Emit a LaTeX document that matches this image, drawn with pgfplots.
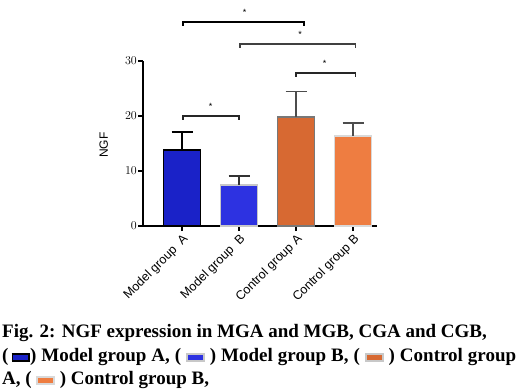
\documentclass[border=0pt]{standalone}
\usepackage{pgfplots}
\pgfplotsset{compat=1.18}
\usepackage{fontspec}
\setmainfont{Liberation Serif}
\newfontfamily\arial{Liberation Sans}
\definecolor{mablue}{RGB}{26,34,200}
\definecolor{mbblue}{RGB}{45,50,225}
\definecolor{caor}{RGB}{215,105,50}
\definecolor{cbor}{RGB}{238,125,65}
\definecolor{gborder}{RGB}{120,120,120}
\definecolor{lborder}{RGB}{200,200,200}
\newcommand\lbox[2]{\raisebox{1pt}{\setlength{\fboxsep}{0pt}\setlength{\fboxrule}{1.8pt}\fcolorbox{#1}{#2}{\rule{0pt}{5.5pt}\hspace{15pt}}}}
\begin{document}
\begin{tikzpicture}
\useasboundingbox (0,0) rectangle (519pt,391pt);
\begin{axis}[
  at={(143pt,165pt)}, anchor=south west,
  scale only axis, width=234pt, height=165pt,
  xmin=-0.684, xmax=3.42, ymin=0, ymax=30,
  axis x line*=bottom, axis y line*=left,
  axis line style={line width=1.6pt, -},
  ytick={0,10,20,30}, xtick={0,1,2,3},
  xticklabels={Model group\ \ A, Model group\ \ B, Control group A, Control group B},
  tick align=outside, major tick length=5pt,
  tick style={line width=1.3pt, black},
  x tick label style={rotate=45, anchor=north east, inner sep=1.5pt, font=\arial\fontsize{12.5}{12.5}\selectfont, text=black},
  y tick label style={font=\arial\fontsize{12}{12}\selectfont, inner sep=1pt},
  ylabel={NGF}, ylabel style={font=\arial\fontsize{12}{12}\selectfont, at={(axis description cs:-0.135,0.49)}},
  clip=false,
]
\addplot[ybar, bar shift=0pt, bar width=37pt, fill=mablue, draw=black, line width=1.8pt,
  error bars/.cd, y dir=plus, y explicit,
  error bar style={line width=1.5pt, black},
  error mark options={rotate=90, mark size=10.5pt, line width=1.5pt, black}]
  coordinates {(0,13.8) +- (0,3.3)};
\addplot[ybar, bar shift=0pt, bar width=37pt, fill=mbblue, draw=lborder, line width=1.8pt,
  error bars/.cd, y dir=plus, y explicit,
  error bar style={line width=1.5pt, black!80},
  error mark options={rotate=90, mark size=10.5pt, line width=1.5pt, black!80}]
  coordinates {(1,7.45) +- (0,1.65)};
\addplot[ybar, bar shift=0pt, bar width=37pt, fill=caor, draw=gborder, line width=1.8pt,
  error bars/.cd, y dir=plus, y explicit,
  error bar style={line width=1.5pt, black!70},
  error mark options={rotate=90, mark size=10.5pt, line width=1.5pt, black!70}]
  coordinates {(2,19.8) +- (0,4.7)};
\addplot[ybar, bar shift=0pt, bar width=37pt, fill=cbor, draw=lborder!70, line width=1.8pt,
  error bars/.cd, y dir=plus, y explicit,
  error bar style={line width=1.5pt, black!70},
  error mark options={rotate=90, mark size=10.5pt, line width=1.5pt, black!70}]
  coordinates {(3,16.4) +- (0,2.3)};
% significance brackets
\addplot[line width=1.5pt, black] coordinates {(0.02,36.4) (0.02,37.1) (2.14,37.1) (2.14,36.4)};
\addplot[line width=1.5pt, black!75] coordinates {(1.02,32.4) (1.02,33.1) (3.04,33.1) (3.04,32.4)};
\addplot[line width=1.5pt, black!85] coordinates {(2.0,27.1) (2.0,27.8) (3.04,27.8) (3.04,27.1)};
\addplot[line width=1.5pt, black!85] coordinates {(0.02,19.3) (0.02,20.0) (1.0,20.0) (1.0,19.3)};
\node[font=\arial\fontsize{9}{9}\selectfont] at (axis cs:1.1,38.9) {*};
\node[font=\arial\fontsize{9}{9}\selectfont] at (axis cs:2.07,34.9) {*};
\node[font=\arial\fontsize{9}{9}\selectfont] at (axis cs:2.5,29.6) {*};
\node[font=\arial\fontsize{9}{9}\selectfont] at (axis cs:0.5,21.8) {*};
\end{axis}
\node[anchor=base west, inner sep=0pt] at (2pt,54pt) {\fontsize{19}{22}\selectfont\bfseries Fig. 2: NGF expression in MGA and MGB, CGA and CGB,};
\node[anchor=base west, inner sep=0pt] at (2pt,30pt) {\fontsize{19}{22}\selectfont\bfseries \makebox[514pt][s]{(\kern3pt\lbox{black}{mablue}) Model group A, ( \lbox{lborder}{mbblue} ) Model group B, ( \lbox{lborder}{caor} ) Control group}};
\node[anchor=base west, inner sep=0pt] at (2pt,7pt) {\fontsize{19}{22}\selectfont\bfseries A, ( \lbox{white!85!black}{cbor} ) Control group B,};
\end{tikzpicture}
\end{document}
